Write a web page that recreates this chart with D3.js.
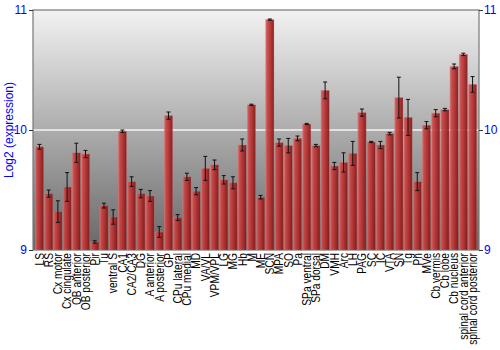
<!DOCTYPE html>
<html>
<head>
<meta charset="utf-8">
<script src="https://cdn.jsdelivr.net/npm/d3@7"></script>
<style>
  body { margin: 0; background: #fff; }
  svg { display: block; font-family: "Liberation Sans", Arial, sans-serif; }
</style>
</head>
<body>
<div class="graph"></div>
<script>
const regions = ['LS', 'RS', 'Cx motor', 'Cx cingulate', 'OB anterior', 'OB posterior', 'Pir', 'Tu',
    'ventral S', 'CA1', 'CA2/CA3', 'DG', 'A anterior', 'A posterior', 'GP', 'CPu lateral', 'CPu medial',
    'MD', 'VA/VL', 'VPM/VPL', 'LG', 'MG', 'Hb', 'M', 'ME', 'SCN', 'MPA', 'SO', 'Pa', 'SPa ventral',
    'SPa dorsal', 'DM', 'VMH', 'Arc', 'LH', 'PAG', 'SC', 'IC', 'VTA', 'SN', 'Tg', 'Pn', 'MVe',
    'Cb vermis', 'Cb lobe', 'Cb nucleus', 'spinal cord anterior', 'spinal cord posterior'];

const expression = [9.86, 9.47, 9.32, 9.525, 9.81, 9.80, 9.067, 9.37,
    9.275, 9.99, 9.57, 9.47, 9.45, 9.15, 10.12, 9.27, 9.61,
    9.49, 9.68, 9.71, 9.585, 9.56, 9.875, 10.21, 9.44, 10.92, 9.895, 9.87, 9.93, 10.05,
    9.87, 10.33, 9.70, 9.73, 9.805, 10.145, 9.90, 9.875, 9.97, 10.27, 10.105, 9.57, 10.04,
    10.14, 10.17, 10.53, 10.63, 10.38];

const errors = [0.02, 0.03, 0.09, 0.12, 0.08, 0.03, 0.01, 0.02,
    0.06, 0.01, 0.04, 0.035, 0.045, 0.045, 0.03, 0.025, 0.03,
    0.03, 0.1, 0.04, 0.035, 0.05, 0.05, 0.005, 0.015, 0.005, 0.03, 0.06, 0.02, 0.005,
    0.01, 0.07, 0.03, 0.08, 0.1, 0.03, 0.005, 0.03, 0.01, 0.17, 0.15, 0.075, 0.03,
    0.03, 0.01, 0.02, 0.01, 0.065];

const yTicks = [9, 10, 11];

const dim = { w: 500, h: 350, left: 33, right: 479, top: 10, bottom: 250 }

const svg = d3.select('.graph')
    .append('svg')
    .attr('width', dim.w)
    .attr('height', dim.h);

const defs = svg.append('defs');

// plot background: light grey at the top, dark grey at the bottom
const bg = defs.append('linearGradient').attr('id', 'bg')
    .attr('x1', 0).attr('y1', 0).attr('x2', 0).attr('y2', 1);
bg.append('stop').attr('offset', 0).attr('stop-color', '#f2f2f2');
bg.append('stop').attr('offset', 1).attr('stop-color', '#676767');

// bar shading, lighter on the left edge
const barGrad = defs.append('linearGradient').attr('id', 'barGrad')
    .attr('x1', 0).attr('y1', 0).attr('x2', 1).attr('y2', 0);
barGrad.append('stop').attr('offset', 0).attr('stop-color', '#d86a6a');
barGrad.append('stop').attr('offset', 0.2).attr('stop-color', '#c94444');
barGrad.append('stop').attr('offset', 0.55).attr('stop-color', '#b42d2d');
barGrad.append('stop').attr('offset', 1).attr('stop-color', '#7c1616');

const xScale = d3.scaleBand()
    .domain(regions)
    .range([dim.left, dim.right])
    .paddingInner(0.1)
    .paddingOuter(0.25);

const yScale = d3.scaleLinear()
    .domain([9, 11])
    .range([dim.bottom, dim.top]);

svg.append('rect')
    .attr('x', dim.left).attr('y', dim.top)
    .attr('width', dim.right - dim.left).attr('height', dim.bottom - dim.top)
    .attr('fill', 'url(#bg)');

// grid line at 10
svg.append('line')
    .attr('x1', dim.left).attr('x2', dim.right)
    .attr('y1', yScale(10)).attr('y2', yScale(10))
    .attr('stroke', '#f4f4f4').attr('stroke-width', 1.5);

// frame
svg.append('rect')
    .attr('x', dim.left).attr('y', dim.top)
    .attr('width', dim.right - dim.left).attr('height', dim.bottom - dim.top)
    .attr('fill', 'none').attr('stroke', '#777').attr('stroke-width', 1.2);

const rows = regions.map((r, i) => ({ region: r, value: expression[i], err: errors[i] }));

svg.selectAll('.bar')
    .data(rows)
    .enter()
    .append('rect')
    .attr('class', 'bar')
    .attr('x', d => xScale(d.region))
    .attr('y', d => yScale(d.value))
    .attr('width', xScale.bandwidth())
    .attr('height', d => yScale(9) - yScale(d.value))
    .attr('fill', 'url(#barGrad)')
    .attr('fill-opacity', 0.92)
    .attr('stroke', '#d88080')
    .attr('stroke-opacity', 0.5)
    .attr('stroke-width', 0.6);

// error bars
const eb = svg.selectAll('.err')
    .data(rows)
    .enter()
    .append('g')
    .attr('class', 'err')
    .attr('stroke', '#111')
    .attr('stroke-width', 1);

const cx = d => xScale(d.region) + xScale.bandwidth() / 2;
eb.append('line')
    .attr('x1', cx).attr('x2', cx)
    .attr('y1', d => yScale(d.value + d.err)).attr('y2', d => yScale(d.value - d.err));
eb.append('line')
    .attr('x1', d => cx(d) - 2).attr('x2', d => cx(d) + 2)
    .attr('y1', d => yScale(d.value + d.err)).attr('y2', d => yScale(d.value + d.err));
eb.append('line')
    .attr('x1', d => cx(d) - 2).attr('x2', d => cx(d) + 2)
    .attr('y1', d => yScale(d.value - d.err)).attr('y2', d => yScale(d.value - d.err));

// y axes on both sides
const yLeft = d3.axisLeft(yScale).tickValues(yTicks).tickSize(4).tickPadding(2).tickFormat(d3.format('d'));
const yRight = d3.axisRight(yScale).tickValues(yTicks).tickSize(4).tickPadding(1).tickFormat(d3.format('d'));

[[yLeft, dim.left], [yRight, dim.right]].forEach(([ax, x]) => {
    const g = svg.append('g')
        .attr('transform', `translate(${x},0)`)
        .call(ax);
    g.select('.domain').remove();
    g.selectAll('.tick line').attr('stroke', '#333');
    g.selectAll('.tick text')
        .attr('fill', '#0000ff')
        .style('font-size', '12px')
        .style('font-family', '"Liberation Sans", Arial, sans-serif');
});

svg.append('text')
    .attr('transform', `translate(13,${(dim.top + dim.bottom) / 2}) rotate(-90)`)
    .attr('text-anchor', 'middle')
    .attr('fill', '#0000ff')
    .style('font-size', '12px')
    .text('Log2 (expression)');

// x labels, rotated
svg.selectAll('.xlabel')
    .data(regions)
    .enter()
    .append('text')
    .attr('class', 'xlabel')
    .attr('transform', d => `translate(${xScale(d) + xScale.bandwidth() / 2},${dim.bottom + 3}) rotate(-90) scale(0.85,1)`)
    .attr('dy', '0.36em')
    .attr('text-anchor', 'end')
    .attr('fill', '#000')
    .style('font-size', '12px')
    .text(d => d);
</script>
</body>
</html>
